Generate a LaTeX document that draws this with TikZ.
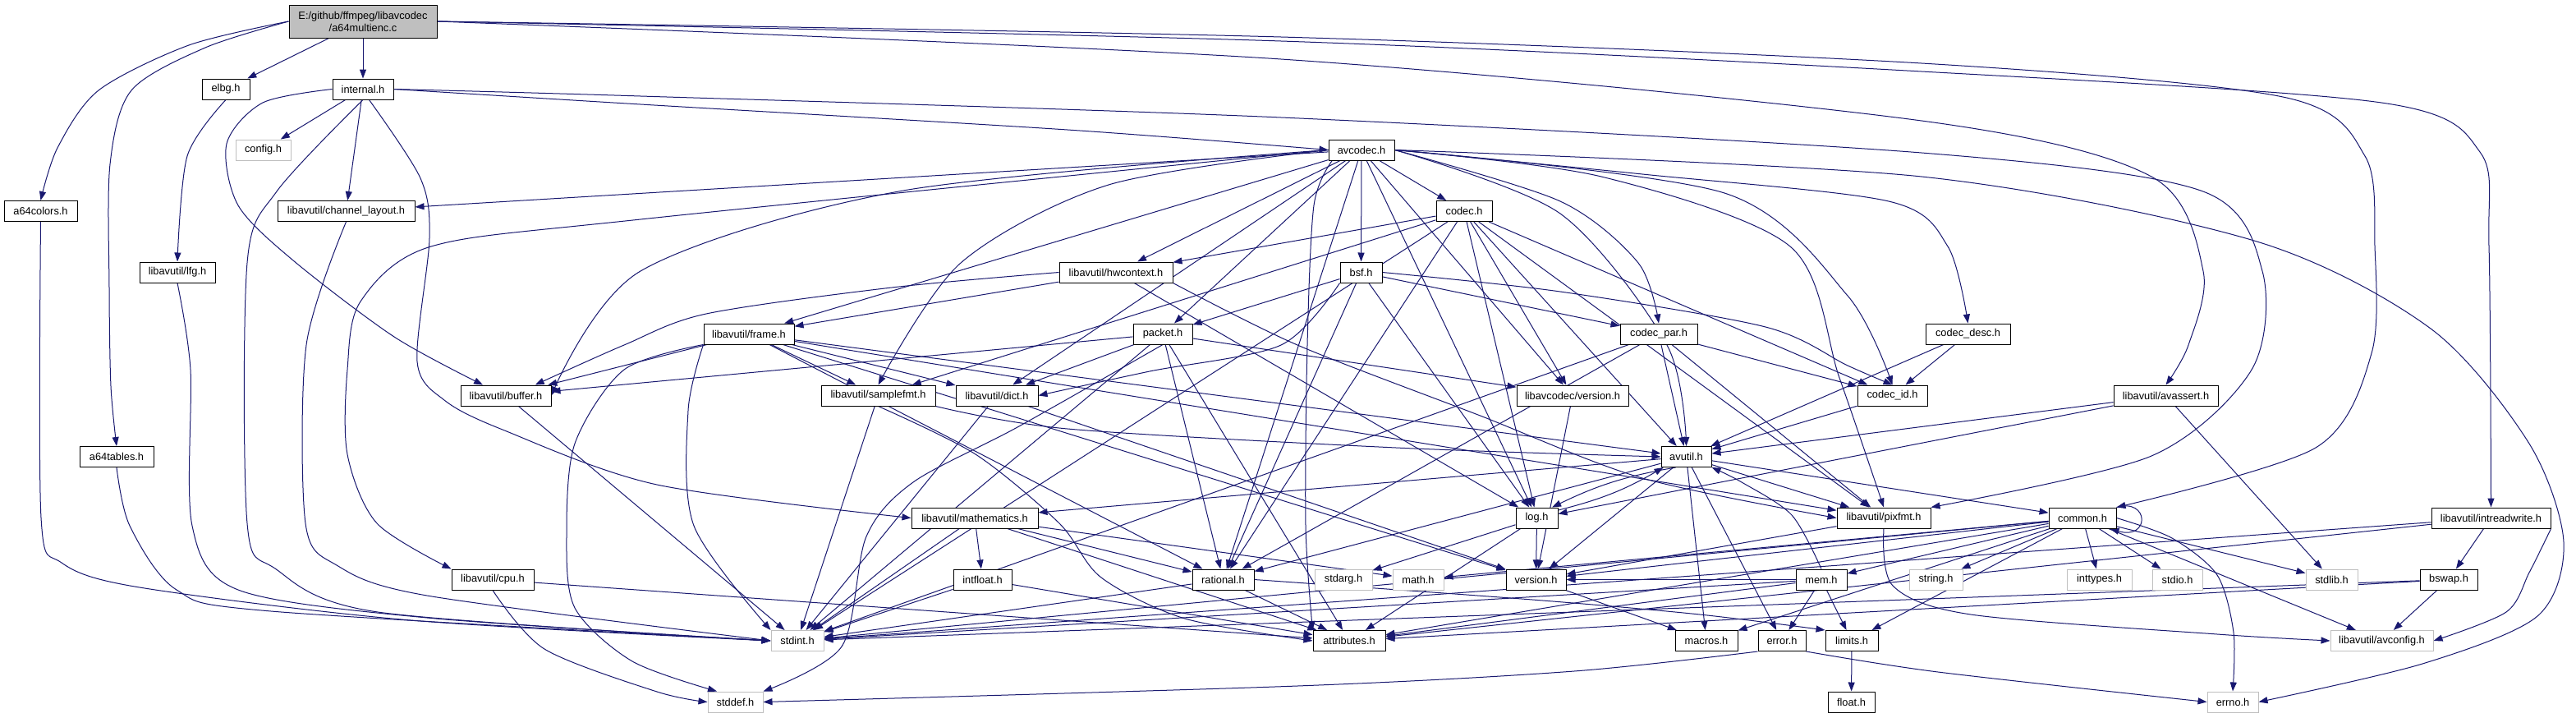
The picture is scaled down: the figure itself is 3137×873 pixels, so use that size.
\documentclass[tikz,border=0pt]{standalone}
\usepackage{fontspec}
\setmainfont{Liberation Sans}
\usetikzlibrary{arrows.meta}
\pgfdeclarelayer{bg}
\pgfdeclarelayer{edges}
\pgfsetlayers{bg,edges,main}
\definecolor{edgec}{RGB}{25,25,112}
\tikzset{
  nb/.style={draw=black, line width=1pt, fill=white, minimum height=25pt, inner sep=0pt, font=\fontsize{12.8}{15}\selectfont},
  ng/.style={nb, draw=gray!50},
  e/.style={draw=edgec, line width=1pt, -{Triangle[length=11pt,width=8pt]}},
}
\begin{document}
\begin{tikzpicture}[x=1pt,y=-1pt]
\begin{pgfonlayer}{bg}
\fill[white] (0,0) rectangle (3137,873);
\end{pgfonlayer}
\useasboundingbox (0,0) rectangle (3137,873);
% nodes
\node[nb, fill=gray!50, minimum width=180pt, minimum height=40pt, align=center] (main) at (442,26) {E:/github/ffmpeg/libavcodec\\/a64multienc.c};
\node[nb, minimum width=58pt] (elbg) at (275,108.5) {elbg.h};
\node[nb, minimum width=74pt] (internal) at (442,108.5) {internal.h};
\node[ng, minimum width=67pt] (config) at (320.5,182.5) {config.h};
\node[nb, minimum width=80pt] (avcodec) at (1658,182.5) {avcodec.h};
\node[nb, minimum width=89pt] (a64colors) at (49.5,257) {a64colors.h};
\node[nb, minimum width=167pt] (chlayout) at (421.5,257) {libavutil/channel\_layout.h};
\node[nb, minimum width=68pt] (codec) at (1783,257) {codec.h};
\node[nb, minimum width=92pt] (lfg) at (216,331.5) {libavutil/lfg.h};
\node[nb, minimum width=138pt] (hwctx) at (1359,331.5) {libavutil/hwcontext.h};
\node[nb, minimum width=51pt] (bsf) at (1657.5,331.5) {bsf.h};
\node[nb, minimum width=110pt] (frame) at (912,406.5) {libavutil/frame.h};
\node[nb, minimum width=72pt] (packet) at (1416,406.5) {packet.h};
\node[nb, minimum width=94pt] (codecpar) at (2020,406.5) {codec\_par.h};
\node[nb, minimum width=103pt] (codecdesc) at (2396.5,406.5) {codec\_desc.h};
\node[nb, minimum width=110pt] (buffer) at (616,481.5) {libavutil/buffer.h};
\node[nb, minimum width=139pt] (samplefmt) at (1069.5,481.5) {libavutil/samplefmt.h};
\node[nb, minimum width=100pt] (dict) at (1214,481.5) {libavutil/dict.h};
\node[nb, minimum width=136pt] (lavcver) at (1915,481.5) {libavcodec/version.h};
\node[nb, minimum width=85pt] (codecid) at (2304.5,481.5) {codec\_id.h};
\node[nb, minimum width=127pt] (avassert) at (2637.5,481.5) {libavutil/avassert.h};
\node[nb, minimum width=90pt] (a64tables) at (142,556) {a64tables.h};
\node[nb, minimum width=61pt] (avutil) at (2053.5,556) {avutil.h};
\node[nb, minimum width=154pt] (mathematics) at (1187,630.5) {libavutil/mathematics.h};
\node[nb, minimum width=51pt] (log) at (1871.5,630.5) {log.h};
\node[nb, minimum width=114pt] (pixfmt) at (2294,630.5) {libavutil/pixfmt.h};
\node[nb, minimum width=82pt] (common) at (2536,630.5) {common.h};
\node[nb, minimum width=145pt] (intrw) at (3033.5,630.5) {libavutil/intreadwrite.h};
\node[nb, minimum width=100pt] (cpu) at (600,705.5) {libavutil/cpu.h};
\node[nb, minimum width=71pt] (intfloat) at (1196.5,705.5) {intfloat.h};
\node[nb, minimum width=75pt] (rational) at (1489.5,705.5) {rational.h};
\node[ng, minimum width=70pt] (stdarg) at (1636,705.5) {stdarg.h};
\node[ng, minimum width=62pt] (math) at (1727,705.5) {math.h};
\node[nb, minimum width=73pt] (version) at (1870.5,705.5) {version.h};
\node[nb, minimum width=62pt] (mem) at (2218,705.5) {mem.h};
\node[ng, minimum width=65pt] (string) at (2357.5,705.5) {string.h};
\node[ng, minimum width=79pt] (inttypes) at (2556.5,705.5) {inttypes.h};
\node[ng, minimum width=61pt] (stdio) at (2651.5,705.5) {stdio.h};
\node[ng, minimum width=63pt] (stdlib) at (2839.5,705.5) {stdlib.h};
\node[nb, minimum width=70pt] (bswap) at (2982,705.5) {bswap.h};
\node[ng, minimum width=64pt] (stdint) at (971,780) {stdint.h};
\node[nb, minimum width=88pt] (attributes) at (1643,780) {attributes.h};
\node[nb, minimum width=76pt] (macros) at (2078,780) {macros.h};
\node[nb, minimum width=58pt] (error) at (2170,780) {error.h};
\node[nb, minimum width=64pt] (limits) at (2255,780) {limits.h};
\node[ng, minimum width=125pt] (avconfig) at (2900.5,780) {libavutil/avconfig.h};
\node[ng, minimum width=67pt] (stddef) at (895.5,854.5) {stddef.h};
\node[nb, minimum width=57pt] (float) at (2254.5,854.5) {float.h};
\node[ng, minimum width=62pt] (errno) at (2719,854.5) {errno.h};

\begin{pgfonlayer}{edges}
% main
\draw[e] plot[smooth] coordinates {(main.west) (230,55) (120,110) (70,180) (a64colors.north)};
\draw[e] plot[smooth] coordinates {(main.west) (250,58) (160,110) (134,200) (133,350) (135,470) (a64tables.north)};
\draw[e] (main) -- (elbg);
\draw[e] (main) -- (internal);
\draw[e] plot[smooth] coordinates {(main.east) (1560,72) (2340,147) (2620,215) (2683,330) (2665,420) (avassert.north)};
\draw[e] plot[smooth] coordinates {(main.east) (1560,45) (2340,77) (2780,118) (2880,190) (2892,300) (2888,430) (2820,545) (common.north east)};
\draw[e] plot[smooth] coordinates {(main.east) (1560,50) (2340,87) (2900,125) (3020,185) (3031,300) (intrw.north)};
% to stdint from left
\draw[e] plot[smooth] coordinates {(a64colors.south) (50,630) (75,685) (170,715) (500,755) (stdint.west)};
\draw[e] plot[smooth] coordinates {(a64tables.south) (158,640) (215,718) (330,744) (stdint.west)};
\draw[e] plot[smooth] coordinates {(lfg.south) (232,450) (234,640) (290,718) (520,752) (stdint.west)};
\draw[e] plot[smooth] coordinates {(internal.south) (337,233) (301,320) (301,637) (335,692) (460,745) (stdint.west)};
\draw[e] plot[smooth] coordinates {(chlayout.south) (373,420) (372,637) (410,688) (520,725) (stdint.west)};
\draw[e] plot[smooth] coordinates {(elbg.south) (228,190) (lfg.north)};
% internal
\draw[e] (internal) -- (config);
\draw[e] (internal) -- (chlayout);
\draw[e] plot[smooth] coordinates {(internal.west) (320,125) (276,175) (290,250) (357,317) (480,410) (buffer.155)};
\draw[e] plot[smooth] coordinates {(internal.-60) (512,217) (523,290) (508,440) (541,487) (612,523) (800,590) (mathematics.west)};
\draw[e] plot[smooth] coordinates {(internal.east) (780,127) (1300,158) (avcodec.west)};
\draw[e] plot[smooth] coordinates {(internal.east) (780,117) (1560,143) (2340,186) (2680,232) (2755,330) (2742,450) (2620,555) (pixfmt.north east)};
% avcodec
\draw[e] plot[smooth] coordinates {(avcodec.east) (2340,215) (2745,293) (2960,400) (3080,540) (3122,660) (3090,750) (2950,808) (errno.east)};
\draw[e] plot[smooth] coordinates {(avcodec.west) (1350,225) (1170,320) (samplefmt.north)};
\draw[e] plot[smooth] coordinates {(avcodec.200) (1600,250) (1592,420) (1590,640) (attributes.north west)};
\draw[e] plot[smooth] coordinates {(avcodec.east) (1900,260) (2030,420) (avutil.north)};
\draw[e] plot[smooth] coordinates {(avcodec.west) (1100,232) (780,330) (buffer.east)};
\draw[e] plot[smooth] coordinates {(avcodec.west) (780,267) (525,300) (439,367) (423,450) (423,553) (459,637) (cpu.north west)};
\draw[e] (avcodec) -- (chlayout);
\draw[e] (avcodec) -- (dict);
\draw[e] (avcodec) -- (frame);
\draw[e] (avcodec) -- (hwctx);
\draw[e] (avcodec) -- (log);
\draw[e] plot[smooth] coordinates {(avcodec.east) (1950,215) (2180,300) (2240,460) (pixfmt.north)};
\draw[e] (avcodec) -- (rational);
\draw[e] (avcodec) -- (bsf);
\draw[e] (avcodec) -- (codec);
\draw[e] plot[smooth] coordinates {(avcodec.east) (2000,212) (2300,245) (2372,300) (codecdesc.north)};
\draw[e] plot[smooth] coordinates {(avcodec.east) (1900,245) (1995,320) (codecpar.north)};
\draw[e] plot[smooth] coordinates {(avcodec.east) (2100,235) (2250,360) (codecid.north)};
\draw[e] (avcodec) -- (packet);
\draw[e] (avcodec) -- (lavcver);
% samplefmt
\draw[e] (samplefmt) -- (stdint);
\draw[e] plot[smooth] coordinates {(samplefmt.south east) (1300,522) (1700,545) (avutil.west)};
\draw[e] plot[smooth] coordinates {(samplefmt.south) (1188,553) (1290,637) (1341,703) (1443,753) (attributes.west)};
% avutil
\draw[e] (avutil) -- (common);
\draw[e] (avutil) -- (error);
\draw[e] (avutil) -- (rational);
\draw[e] (avutil) -- (version);
\draw[e] (avutil) -- (macros);
\draw[e] (avutil) -- (mathematics);
\draw[e] (avutil.225) to[bend right=8] (log.35);
\draw[e] (log.20) to[bend right=8] (avutil.205);
\draw[e] (avutil) -- (pixfmt);
% common
\draw[e] plot[smooth] coordinates {(common.east) (2645,655) (2700,700) (2720,770) (errno.north)};
\draw[e] (common) -- (inttypes);
\draw[e] (common) -- (limits);
\draw[e] (common) -- (math);
\draw[e] (common) -- (stdint);
\draw[e] (common) -- (stdio);
\draw[e] (common) -- (stdlib);
\draw[e] (common) -- (string);
\draw[e] (common) -- (attributes);
\draw[e] (common) -- (macros);
\draw[e] (common) -- (version);
\draw[e] (common) -- (avconfig);
\draw[e] (common) -- (mem);
\draw[e] (common.north east) .. controls (2618,606) and (2618,658) .. ([xshift=-8pt]common.south east);
% error
\draw[e] plot[smooth] coordinates {(error.south east) (2360,818) (errno.west)};
\draw[e] plot[smooth] coordinates {(error.south west) (1917,817) (1580,835) (stddef.east)};
% rational
\draw[e] (rational) -- (stdint);
\draw[e] plot[smooth] coordinates {(rational.east) (1866,730) (2070,748) (limits.north west)};
\draw[e] (rational) -- (attributes);
\draw[e] (version) -- (macros);
% mathematics
\draw[e] (mathematics) -- (stdint);
\draw[e] (mathematics) -- (math);
\draw[e] (mathematics) -- (attributes);
\draw[e] (mathematics) -- (rational);
\draw[e] (mathematics) -- (intfloat);
\draw[e] (intfloat) -- (stdint);
\draw[e] (intfloat) -- (attributes);
% log
\draw[e] (log) -- (stdarg);
\draw[e] (log) -- (attributes);
\draw[e] (log) -- (version);
% pixfmt
\draw[e] plot[smooth] coordinates {(pixfmt.south) (2305,713) (2400,748) (2700,772) (avconfig.west)};
\draw[e] (pixfmt) -- (version);
% mem
\draw[e] (mem) -- (limits);
\draw[e] (mem) -- (stdint);
\draw[e] (mem) -- (attributes);
\draw[e] (mem) -- (error);
\draw[e] plot[smooth] coordinates {(mem.north) (2182,627) (2121,587) (avutil.south east)};
\draw[e] (mem) -- (version);
\draw[e] (limits) -- (float);
\draw[e] (buffer) -- (stdint);
% cpu
\draw[e] plot[smooth] coordinates {(cpu.south) (663,790) (800,842) (stddef.west)};
\draw[e] (cpu) -- (attributes);
% dict
\draw[e] (dict) -- (stdint);
\draw[e] (dict) -- (version);
% frame
\draw[e] plot[smooth] coordinates {(frame.south west) (760,450) (700,540) (690,650) (700,740) (770,805) (stddef.150)};
\draw[e] plot[smooth] coordinates {(frame.south west) (838,500) (845,640) (stdint.north west)};
\draw[e] (frame) -- (avutil);
\draw[e] (frame) -- (buffer);
\draw[e] (frame) -- (dict);
\draw[e] (frame) -- (rational);
\draw[e] (frame) -- (samplefmt);
\draw[e] (frame) -- (pixfmt);
\draw[e] (frame) -- (version);
% hwcontext
\draw[e] plot[smooth] coordinates {(hwctx.west) (1086,350) (860,382) (760,420) (buffer.20)};
\draw[e] (hwctx) -- (frame);
\draw[e] (hwctx) -- (log);
\draw[e] plot[smooth] coordinates {(hwctx.south east) (1580,420) (1800,505) (2000,582) (pixfmt.west)};
% bsf
\draw[e] plot[smooth] coordinates {(bsf.south west) (1560,420) (1400,452) (dict.east)};
\draw[e] (bsf) -- (log);
\draw[e] (bsf) -- (rational);
\draw[e] plot[smooth] coordinates {(bsf.east) (1900,355) (2150,398) (2250,445) (codecid.north)};
\draw[e] (bsf) -- (codecpar);
\draw[e] (bsf) -- (packet);
% codec
\draw[e] (codec) -- (stdint);
\draw[e] (codec) -- (avutil);
\draw[e] (codec) -- (hwctx);
\draw[e] (codec) -- (log);
\draw[e] (codec) -- (pixfmt);
\draw[e] (codec) -- (rational);
\draw[e] (codec) -- (samplefmt);
\draw[e] (codec) -- (codecid);
\draw[e] (codec) -- (lavcver);
% codec_desc
\draw[e] (codecdesc) -- (avutil);
\draw[e] (codecdesc) -- (codecid);
% codec_par
\draw[e] (codecpar) -- (stdint);
\draw[e] (codecpar) -- (avutil);
\draw[e] (codecpar) -- (rational);
\draw[e] (codecpar) -- (pixfmt);
\draw[e] (codecpar) -- (codecid);
\draw[e] (codecid) -- (avutil);
% packet
\draw[e] plot[smooth] coordinates {(packet.south) (1239,520) (1112,587) (1055,653) (1025,787) (stddef.north east)};
\draw[e] (packet) -- (stdint);
\draw[e] (packet) -- (attributes);
\draw[e] (packet) -- (buffer);
\draw[e] (packet) -- (dict);
\draw[e] (packet) -- (rational);
\draw[e] (packet) -- (lavcver);
\draw[e] (lavcver) -- (version);
% avassert
\draw[e] (avassert) -- (stdlib);
\draw[e] (avassert) -- (avutil);
\draw[e] (avassert) -- (log);
% intreadwrite
\draw[e] (intrw) -- (stdint);
\draw[e] plot[smooth] coordinates {(intrw.south east) (3080,697) (3052,745) (avconfig.east)};
\draw[e] (intrw) -- (attributes);
\draw[e] (intrw) -- (bswap);
% bswap
\draw[e] (bswap) -- (stdint);
\draw[e] (bswap) -- (avconfig);
\draw[e] (bswap) -- (attributes);
\end{pgfonlayer}
\end{tikzpicture}
\end{document}
